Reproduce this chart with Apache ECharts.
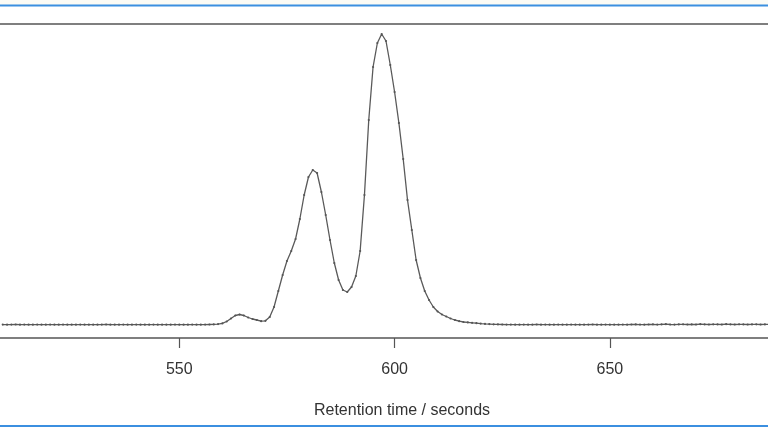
<!DOCTYPE html>
<html>
<head>
<meta charset="utf-8">
<script src="https://cdn.jsdelivr.net/npm/echarts@6/dist/echarts.min.js"></script>
<style>
  html, body { margin: 0; padding: 0; background: #fff; }
  #chart { width: 768px; height: 432px; }
</style>
</head>
<body>
<div id="chart"></div>
<script>
// 保留时间 (s)
const retentionTime = [
    509, 510, 511, 512, 513, 514, 515, 516, 517, 518,
    519, 520, 521, 522, 523, 524, 525, 526, 527, 528,
    529, 530, 531, 532, 533, 534, 535, 536, 537, 538,
    539, 540, 541, 542, 543, 544, 545, 546, 547, 548,
    549, 550, 551, 552, 553, 554, 555, 556, 557, 558,
    559, 560, 561, 562, 563, 564, 565, 566, 567, 568,
    569, 570, 571, 572, 573, 574, 575, 576, 577, 578,
    579, 580, 581, 582, 583, 584, 585, 586, 587, 588,
    589, 590, 591, 592, 593, 594, 595, 596, 597, 598,
    599, 600, 601, 602, 603, 604, 605, 606, 607, 608,
    609, 610, 611, 612, 613, 614, 615, 616, 617, 618,
    619, 620, 621, 622, 623, 624, 625, 626, 627, 628,
    629, 630, 631, 632, 633, 634, 635, 636, 637, 638,
    639, 640, 641, 642, 643, 644, 645, 646, 647, 648,
    649, 650, 651, 652, 653, 654, 655, 656, 657, 658,
    659, 660, 661, 662, 663, 664, 665, 666, 667, 668,
    669, 670, 671, 672, 673, 674, 675, 676, 677, 678,
    679, 680, 681, 682, 683, 684, 685, 686, 687
];

// 信号强度 (a.u.)
const intensity = [
    0.4, 0.3, 0.4, 0.5, 0.3, 0.4, 0.3, 0.3, 0.4, 0.3,
    0.3, 0.4, 0.3, 0.3, 0.4, 0.3, 0.3, 0.3, 0.4, 0.3,
    0.3, 0.3, 0.3, 0.4, 0.5, 0.3, 0.3, 0.3, 0.4, 0.3,
    0.3, 0.4, 0.3, 0.3, 0.3, 0.4, 0.3, 0.3, 0.3, 0.3,
    0.4, 0.3, 0.3, 0.3, 0.4, 0.3, 0.3, 0.4, 0.5, 0.6,
    0.9, 1.6, 3.5, 6.5, 9.5, 10.5, 9.5, 7.5, 6, 5,
    3.8, 4.2, 8, 18, 34, 50, 64, 74, 86, 106,
    130, 148, 155, 152, 133, 110, 85, 62, 45, 35,
    33, 38, 49, 74, 130, 205, 258, 282, 291, 284,
    260, 233, 202, 166, 125, 95, 65, 47, 34, 25,
    18, 13.5, 10.5, 8.5, 6.5, 5, 3.8, 3, 2.6, 2.2,
    1.8, 1.4, 1.1, 0.9, 0.7, 0.6, 0.5, 0.4, 0.4, 0.3,
    0.3, 0.4, 0.3, 0.3, 0.5, 0.3, 0.4, 0.3, 0.3, 0.4,
    0.3, 0.3, 0.4, 0.3, 0.3, 0.3, 0.4, 0.5, 0.3, 0.3,
    0.4, 0.3, 0.3, 0.3, 0.4, 0.3, 0.5, 0.6, 0.4, 0.3,
    0.5, 0.7, 0.4, 0.6, 0.8, 0.5, 0.4, 0.6, 0.7, 0.5,
    0.6, 0.5, 0.8, 0.6, 0.5, 0.7, 0.6, 0.5, 0.8, 0.6,
    0.5, 0.7, 0.6, 0.5, 0.6, 0.7, 0.5, 0.6, 0.5
];

// 刻度标签
const xTicks = [550, 600, 650];

const chart = echarts.init(document.getElementById('chart'));

chart.setOption({
    backgroundColor: '#ffffff',
    animation: false,
    grid: {
        left: 0,
        top: 24,
        width: 768,
        height: 314,
        show: false
    },
    xAxis: {
        type: 'value',
        min: 508.36,
        max: 686.72,
        name: 'Retention time / seconds',
        nameLocation: 'middle',
        nameGap: 65,
        nameTextStyle: {
            color: '#333',
            fontSize: 16,
            fontFamily: 'Liberation Sans',
            padding: [0, 0, 0, 36]
        },
        axisLine: { show: true, onZero: false, lineStyle: { color: '#555', width: 1.5 } },
        axisTick: {
            show: true,
            length: 10,
            customValues: xTicks,
            lineStyle: { color: '#555', width: 1.2 }
        },
        axisLabel: {
            customValues: xTicks,
            margin: 24,
            color: '#333',
            fontSize: 16,
            fontFamily: 'Liberation Sans'
        },
        splitLine: { show: false }
    },
    yAxis: {
        type: 'value',
        min: -13,
        max: 301,
        show: false,
        splitLine: { show: false }
    },
    graphic: [
        { type: 'rect', shape: { x: 0, y: 0, width: 768, height: 5 }, style: { fill: '#fbfbf5' }, silent: true },
        { type: 'line', shape: { x1: 0, y1: 5.5, x2: 768, y2: 5.5 }, style: { stroke: '#3b8fe0', lineWidth: 2 }, silent: true },
        { type: 'line', shape: { x1: 0, y1: 24, x2: 768, y2: 24 }, style: { stroke: '#555', lineWidth: 1.5 }, silent: true },
        { type: 'line', shape: { x1: 0, y1: 426, x2: 768, y2: 426 }, style: { stroke: '#3b8fe0', lineWidth: 2 }, silent: true }
    ],
    series: [{
        type: 'line',
        data: retentionTime.map((t, i) => [t, intensity[i]]),
        symbol: 'circle',
        symbolSize: 2.2,
        showSymbol: true,
        itemStyle: { color: '#555' },
        lineStyle: { color: '#5a5a5a', width: 1.3 }
    }]
});
</script>
</body>
</html>
